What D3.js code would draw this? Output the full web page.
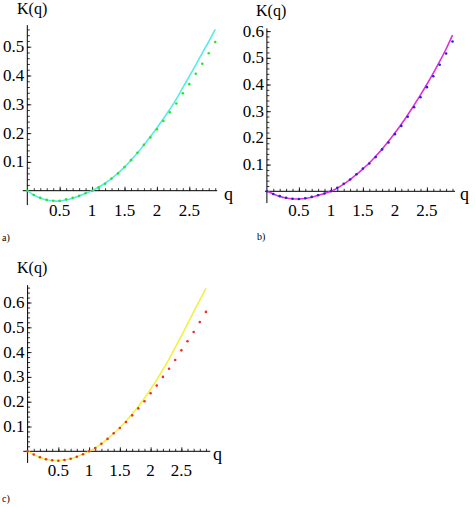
<!DOCTYPE html>
<html><head><meta charset="utf-8">
<script src="https://cdn.jsdelivr.net/npm/d3@7"></script>
</head><body style="margin:0">
<svg id="c" width="475" height="507"></svg>
<script>
// ---- data ----
const qValues = [0,0.1,0.2,0.3,0.4,0.5,0.6,0.7,0.8,0.9,1.0,1.1,1.2,1.3,1.4,1.5,1.6,1.7,1.8,1.9,2.0,2.1,2.2,2.3,2.4,2.5,2.6,2.7,2.8,2.9];
const aPoints = [0,-0.015,-0.025,-0.032,-0.035,-0.035,-0.030,-0.025,-0.018,-0.009,0,0.012,0.024,0.042,0.060,0.082,0.106,0.132,0.159,0.185,0.213,0.242,0.272,0.303,0.338,0.370,0.406,0.441,0.477,0.516];
const aCurve  = [0,-0.015,-0.025,-0.032,-0.035,-0.036,-0.032,-0.026,-0.018,-0.009,0,0.012,0.026,0.042,0.061,0.082,0.106,0.131,0.159,0.188,0.218,0.250,0.283,0.318,0.358,0.397,0.437,0.478,0.518,0.560];
const bPoints = [0,-0.010,-0.018,-0.024,-0.028,-0.029,-0.026,-0.021,-0.015,-0.008,0,0.013,0.028,0.044,0.064,0.085,0.104,0.128,0.157,0.183,0.214,0.245,0.279,0.315,0.352,0.390,0.431,0.474,0.516,0.561];
const bCurve  = [0,-0.010,-0.019,-0.025,-0.028,-0.029,-0.027,-0.022,-0.015,-0.008,0,0.012,0.027,0.044,0.063,0.084,0.106,0.131,0.158,0.187,0.218,0.251,0.286,0.323,0.361,0.401,0.443,0.487,0.533,0.585];
const cPoints = [0,-0.013,-0.024,-0.032,-0.036,-0.038,-0.035,-0.030,-0.022,-0.012,0,0.013,0.030,0.050,0.073,0.094,0.118,0.145,0.173,0.202,0.234,0.265,0.300,0.333,0.368,0.407,0.444,0.481,0.521,0.562];
const cCurve  = [0,-0.013,-0.024,-0.032,-0.036,-0.037,-0.035,-0.030,-0.022,-0.012,0,0.013,0.030,0.050,0.072,0.095,0.121,0.150,0.181,0.214,0.250,0.288,0.329,0.372,0.418,0.465,0.513,0.562,0.610,0.657];
const xTickValues = [0.5,1,1.5,2,2.5];
const xTickLabels = ["0.5","1","1.5","2","2.5"];
const yTickValuesAB = [0.1,0.2,0.3,0.4,0.5];
const yTickValuesC = [0.1,0.2,0.3,0.4,0.5,0.6];
const yTickLabels = ["0.1","0.2","0.3","0.4","0.5","0.6"];
const panelLetters = ["a)","b)","c)"];

// ---- layout ----
const svg = d3.select("#c");
const panels = [
  {pts:aPoints, crv:aCurve, yt:yTickValuesAB, letter:panelLetters[0],
   x0:27.3, xu:64.8, y0:190.7, yu:288, xa:[-0.07,2.93], ya:[-0.05,0.575],
   lineColor:"#55ece6", ptColor:"#2ee02e", kpos:[17,14], qpos:[224,200], lpos:[2,241]},
  {pts:bPoints, crv:bCurve, yt:yTickValuesC, letter:panelLetters[1],
   x0:266.9, xu:64, y0:191.3, yu:267, xa:[-0.03,2.94], ya:[-0.044,0.61],
   lineColor:"#e02ee0", ptColor:"#2424cc", kpos:[256,16], qpos:[460,200], lpos:[257,240]},
  {pts:cPoints, crv:cCurve, yt:yTickValuesC, letter:panelLetters[2],
   x0:27.6, xu:61.5, y0:451.3, yu:248, xa:[-0.07,2.97], ya:[-0.047,0.67],
   lineColor:"#f2f040", ptColor:"#e83030", kpos:[17,273], qpos:[213,460], lpos:[2,502]}
];

function addText(x, y, str, size, anchor, dy){
  const t = svg.append("text").attr("x",x).attr("y",y)
    .style("font-family",'"Times New Roman"').style("font-size",size+"px").text(str);
  if (anchor) t.attr("text-anchor",anchor);
  if (dy) t.attr("dy",dy);
  return t;
}

panels.forEach((p,pi)=>{
  const x = d3.scaleLinear().domain([0,1]).range([p.x0, p.x0+p.xu]);
  const y = d3.scaleLinear().domain([0,1]).range([p.y0, p.y0-p.yu]);
  const g = svg.append("g");

  // axis lines
  g.append("line").attr("x1",x(p.xa[0])).attr("x2",x(p.xa[1])).attr("y1",y(0)).attr("y2",y(0))
    .attr("stroke","#000").attr("stroke-width",1);
  g.append("line").attr("x1",x(0)).attr("x2",x(0)).attr("y1",y(p.ya[0])).attr("y2",y(p.ya[1]))
    .attr("stroke","#000").attr("stroke-width",1);

  // minor & major ticks via d3 axes
  const xMinor = d3.range(1,30).map(i=>i/10).filter(v=>v<=p.xa[1]);
  g.append("g").attr("transform",`translate(0,${y(0)})`)
    .call(d3.axisBottom(x).tickValues(xMinor).tickSize(-2.5).tickFormat(""))
    .select(".domain").remove();
  g.append("g").attr("transform",`translate(0,${y(0)})`)
    .call(d3.axisBottom(x).tickValues(xTickValues).tickSizeInner(-4).tickSizeOuter(0).tickFormat(""))
    .select(".domain").remove();
  const yMinor = d3.range(1,40).map(i=>i*0.02).filter(v=>v<=p.ya[1]);
  g.append("g").attr("transform",`translate(${x(0)},0)`)
    .call(d3.axisLeft(y).tickValues(yMinor).tickSize(-2.5).tickFormat(""))
    .select(".domain").remove();
  g.append("g").attr("transform",`translate(${x(0)},0)`)
    .call(d3.axisLeft(y).tickValues(p.yt).tickSizeInner(-4).tickSizeOuter(0).tickFormat(""))
    .select(".domain").remove();
  g.selectAll(".tick line").attr("stroke","#000").attr("stroke-width",0.8);

  // fitted curve
  const line = d3.line().x((d,i)=>x(qValues[i])).y(d=>y(d)).curve(d3.curveCatmullRom);
  g.append("path").datum(p.crv).attr("d",line).attr("fill","none")
    .attr("stroke",p.lineColor).attr("stroke-width",1.6);
  // points
  g.selectAll("circle.pt").data(p.pts).enter().append("circle")
    .attr("cx",(d,i)=>x(qValues[i])).attr("cy",d=>y(d)).attr("r",1.3).attr("fill",p.ptColor);

  // tick labels positioned by the scales
  xTickValues.forEach((v,i)=>addText(x(v), y(0)+13, xTickLabels[i], 17, "middle", "0.71em"));
  p.yt.forEach(v=>addText(x(0)-3, y(v), yTickLabels[Math.round(v*10)-1], 17, "end", "0.32em"));

  // labels
  addText(p.kpos[0], p.kpos[1], "K(q)", 16);
  addText(p.qpos[0], p.qpos[1], "q", 18);
  addText(p.lpos[0], p.lpos[1], p.letter, 10);
});
</script>
</body></html>
